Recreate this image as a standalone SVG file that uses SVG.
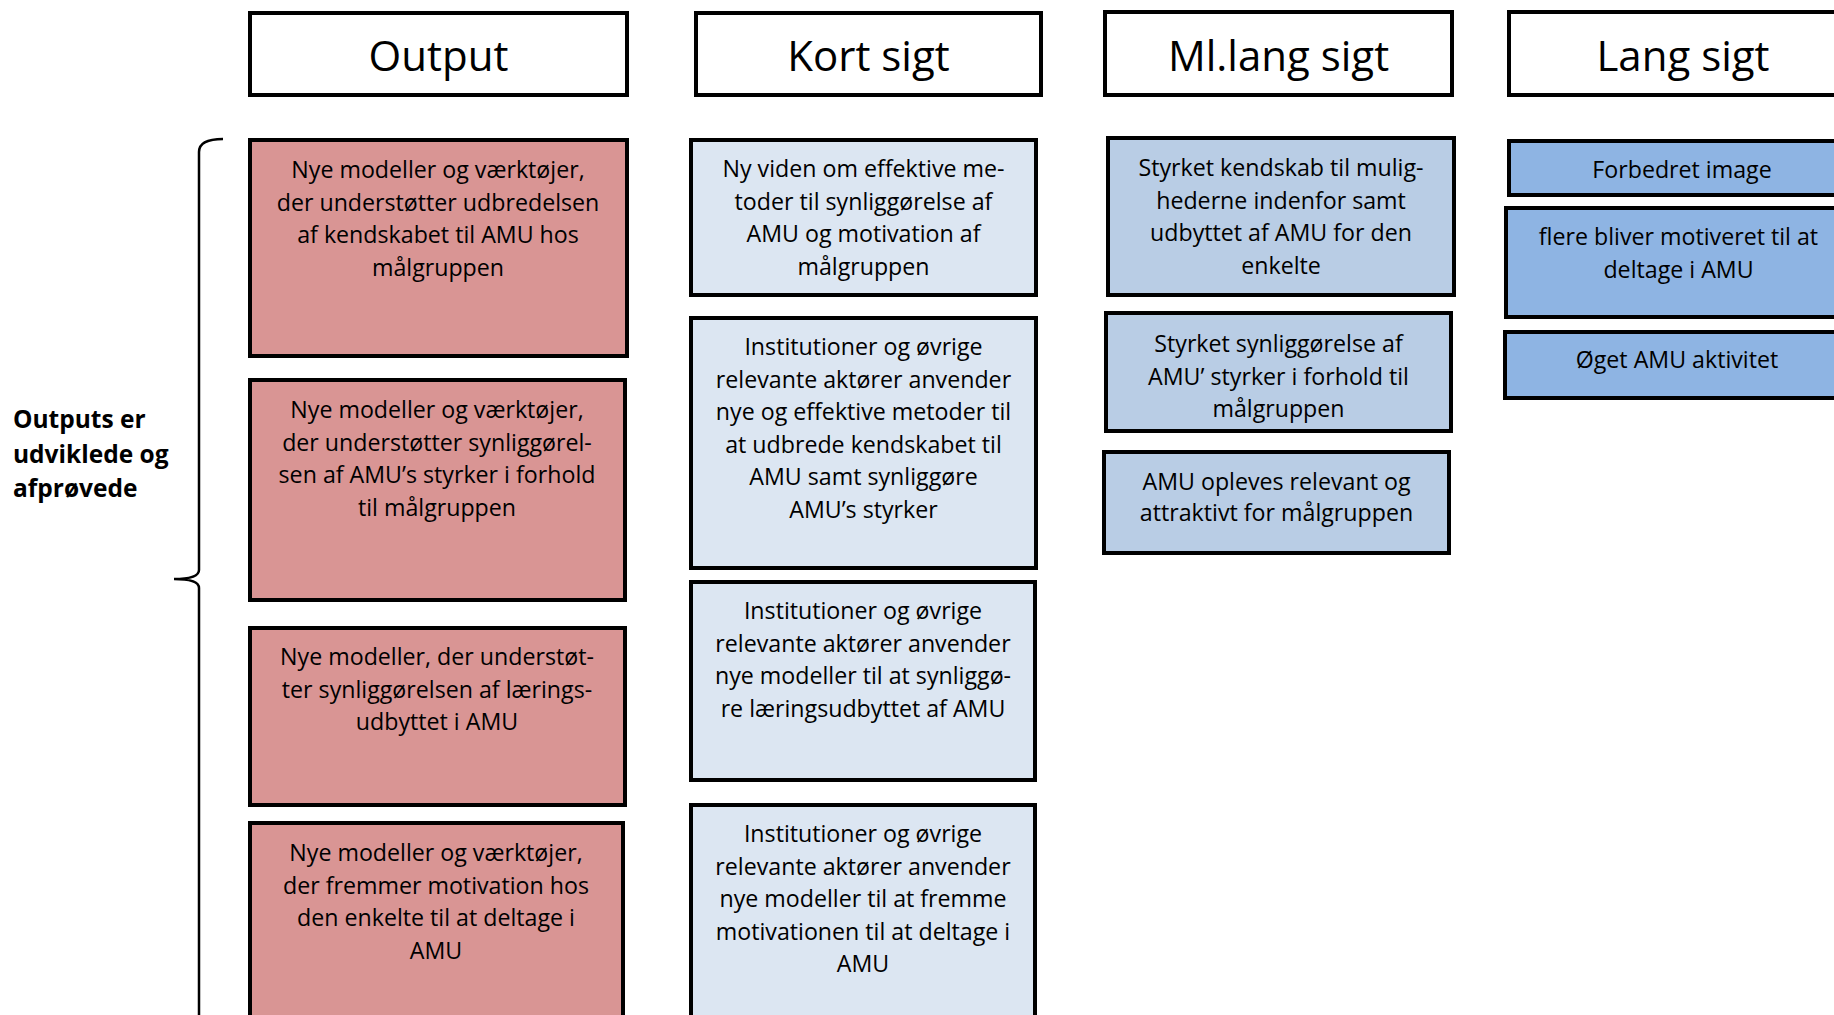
<svg xmlns="http://www.w3.org/2000/svg" width="1834" height="1015" viewBox="0 0 1834 1015">
<style>
  .box { stroke: #000; stroke-width: 4; }
  .hdr { fill: #fff; }
  .red { fill: #D99594; }
  .lb { fill: #DCE6F2; }
  .mb { fill: #B9CDE5; }
  .db { fill: #8EB4E3; }
  .h { font-family: "Open Sans", "Liberation Sans", sans-serif; font-size: 42px; fill: #000; text-anchor: middle; }
  .t { font-family: "Open Sans", "Liberation Sans", sans-serif; font-size: 23.2px; fill: #000; text-anchor: middle; }
  .side { font-family: "Open Sans", "Liberation Sans", sans-serif; font-size: 24.5px; font-weight: bold; fill: #000; }
  .brace { fill: none; stroke: #000; stroke-width: 2.5; }
</style>
<rect x="0" y="0" width="1834" height="1015" fill="#fff"/>

<g id="connectors">
  <path class="brace" d="M223,139 Q199,139 199,152 L199,570 Q199,579 174,579 M174,579 Q199,579 199,588 L199,1025"/>
</g>

<g id="side-label">
  <text class="side"><tspan x="13" y="428">Outputs er</tspan><tspan x="13" y="463">udviklede og</tspan><tspan x="13" y="497">afprøvede</tspan></text>
</g>

<g id="hdr-output"><rect class="box hdr" x="250" y="13" width="377" height="82"/><text class="h" x="438.5" y="71">Output</text></g>
<g id="hdr-kort"><rect class="box hdr" x="696" y="13" width="345" height="82"/><text class="h" x="868.5" y="71">Kort sigt</text></g>
<g id="hdr-mllang"><rect class="box hdr" x="1105" y="12" width="347" height="83"/><text class="h" x="1278.5" y="71">Ml.lang sigt</text></g>
<g id="hdr-lang"><rect class="box hdr" x="1509" y="12" width="360" height="83"/><text class="h" x="1683" y="71">Lang sigt</text></g>

<g id="out1"><rect class="box red" x="250" y="140" width="377" height="216"/>
  <text class="t"><tspan x="438" y="178">Nye modeller og værktøjer,</tspan><tspan x="438" y="210.5">der understøtter udbredelsen</tspan><tspan x="438" y="243">af kendskabet til AMU hos</tspan><tspan x="438" y="275.5">målgruppen</tspan></text></g>
<g id="out2"><rect class="box red" x="250" y="380" width="375" height="220"/>
  <text class="t"><tspan x="437" y="418">Nye modeller og værktøjer,</tspan><tspan x="437" y="450.5">der understøtter synliggørel-</tspan><tspan x="437" y="483">sen af AMU’s styrker i forhold</tspan><tspan x="437" y="515.5">til målgruppen</tspan></text></g>
<g id="out3"><rect class="box red" x="250" y="628" width="375" height="177"/>
  <text class="t"><tspan x="437" y="665">Nye modeller, der understøt-</tspan><tspan x="437" y="697.5">ter synliggørelsen af lærings-</tspan><tspan x="437" y="730">udbyttet i AMU</tspan></text></g>
<g id="out4"><rect class="box red" x="250" y="823" width="373" height="210"/>
  <text class="t"><tspan x="436" y="861">Nye modeller og værktøjer,</tspan><tspan x="436" y="893.5">der fremmer motivation hos</tspan><tspan x="436" y="926">den enkelte til at deltage i</tspan><tspan x="436" y="958.5">AMU</tspan></text></g>

<g id="kort1"><rect class="box lb" x="691" y="140" width="345" height="155"/>
  <text class="t"><tspan x="863.5" y="177">Ny viden om effektive me-</tspan><tspan x="863.5" y="209.5">toder til synliggørelse af</tspan><tspan x="863.5" y="242">AMU og motivation af</tspan><tspan x="863.5" y="274.5">målgruppen</tspan></text></g>
<g id="kort2"><rect class="box lb" x="691" y="318" width="345" height="250"/>
  <text class="t"><tspan x="863.5" y="355">Institutioner og øvrige</tspan><tspan x="863.5" y="387.5">relevante aktører anvender</tspan><tspan x="863.5" y="420">nye og effektive metoder til</tspan><tspan x="863.5" y="452.5">at udbrede kendskabet til</tspan><tspan x="863.5" y="485">AMU samt synliggøre</tspan><tspan x="863.5" y="517.5">AMU’s styrker</tspan></text></g>
<g id="kort3"><rect class="box lb" x="691" y="582" width="344" height="198"/>
  <text class="t"><tspan x="863" y="619">Institutioner og øvrige</tspan><tspan x="863" y="651.5">relevante aktører anvender</tspan><tspan x="863" y="684">nye modeller til at synliggø-</tspan><tspan x="863" y="716.5">re læringsudbyttet af AMU</tspan></text></g>
<g id="kort4"><rect class="box lb" x="691" y="805" width="344" height="230"/>
  <text class="t"><tspan x="863" y="842">Institutioner og øvrige</tspan><tspan x="863" y="874.5">relevante aktører anvender</tspan><tspan x="863" y="907">nye modeller til at fremme</tspan><tspan x="863" y="939.5">motivationen til at deltage i</tspan><tspan x="863" y="972">AMU</tspan></text></g>

<g id="ml1"><rect class="box mb" x="1108" y="138" width="346" height="157"/>
  <text class="t"><tspan x="1281" y="176">Styrket kendskab til mulig-</tspan><tspan x="1281" y="208.5">hederne indenfor samt</tspan><tspan x="1281" y="241">udbyttet af AMU for den</tspan><tspan x="1281" y="273.5">enkelte</tspan></text></g>
<g id="ml2"><rect class="box mb" x="1106" y="313" width="345" height="118"/>
  <text class="t"><tspan x="1278.5" y="352">Styrket synliggørelse af</tspan><tspan x="1278.5" y="384.5">AMU’ styrker i forhold til</tspan><tspan x="1278.5" y="417">målgruppen</tspan></text></g>
<g id="ml3"><rect class="box mb" x="1104" y="452" width="345" height="101"/>
  <text class="t"><tspan x="1276.5" y="490">AMU opleves relevant og</tspan><tspan x="1276.5" y="521">attraktivt for målgruppen</tspan></text></g>

<g id="lang1"><rect class="box db" x="1509" y="141" width="360" height="54"/>
  <text class="t"><tspan x="1682" y="178">Forbedret image</tspan></text></g>
<g id="lang2"><rect class="box db" x="1506" y="208" width="360" height="109"/>
  <text class="t"><tspan x="1678.5" y="245">flere bliver motiveret til at</tspan><tspan x="1678.5" y="277.5">deltage i AMU</tspan></text></g>
<g id="lang3"><rect class="box db" x="1505" y="332" width="360" height="66"/>
  <text class="t"><tspan x="1677" y="368">Øget AMU aktivitet</tspan></text></g>
</svg>
